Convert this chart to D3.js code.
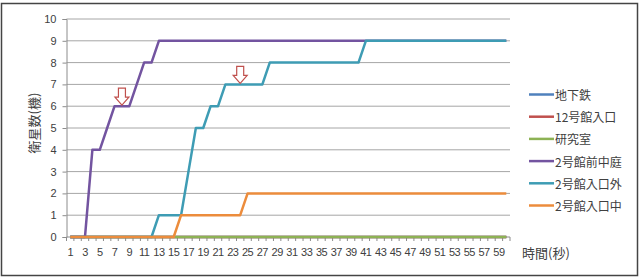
<!DOCTYPE html>
<html>
<head>
<meta charset="utf-8">
<script src="https://cdn.jsdelivr.net/npm/d3@7"></script>
<style>
  body { margin: 0; background: #fff; }
  svg { display: block; font-family: "Noto Sans CJK JP", "DejaVu Sans", sans-serif; }
</style>
</head>
<body>
<svg class="chart"></svg>
<script>
// seconds 1..60
const seconds = d3.range(1, 61);

const seriesNames = ["地下鉄", "12号館入口", "研究室", "2号館前中庭", "2号館入口外", "2号館入口中"];
const seriesColors = ["#4F81BD", "#C0504D", "#8DB254", "#7354A0", "#3E9CB4", "#EC8C3C"];

const chikatetsu = Array(60).fill(0);
const gou12 = Array(60).fill(0);
const kenkyushitsu = Array(60).fill(0);
const nakaniwa = [0, 0, 0, 4, 4, 5, 6, 6, 6, 7, 8, 8,
  9, 9, 9, 9, 9, 9, 9, 9, 9, 9, 9, 9, 9, 9, 9, 9, 9, 9,
  9, 9, 9, 9, 9, 9, 9, 9, 9, 9, 9, 9, 9, 9, 9, 9, 9, 9,
  9, 9, 9, 9, 9, 9, 9, 9, 9, 9, 9, 9];
const iriguchiSoto = [0, 0, 0, 0, 0, 0, 0, 0, 0, 0, 0, 0,
  1, 1, 1, 1, 3, 5, 5, 6, 6, 7, 7, 7, 7, 7, 7,
  8, 8, 8, 8, 8, 8, 8, 8, 8, 8, 8, 8, 8,
  9, 9, 9, 9, 9, 9, 9, 9, 9, 9, 9, 9, 9, 9, 9, 9, 9, 9, 9, 9];
const iriguchiNaka = [0, 0, 0, 0, 0, 0, 0, 0, 0, 0, 0, 0, 0, 0, 0,
  1, 1, 1, 1, 1, 1, 1, 1, 1,
  2, 2, 2, 2, 2, 2, 2, 2, 2, 2, 2, 2, 2, 2, 2, 2, 2, 2, 2, 2, 2, 2, 2, 2, 2, 2, 2, 2, 2, 2, 2, 2, 2, 2, 2, 2];

const seriesValues = [chikatetsu, gou12, kenkyushitsu, nakaniwa, iriguchiSoto, iriguchiNaka];

const yTicks = d3.range(0, 11);
const xLabels = seconds.filter((d) => d % 2 === 1);

// arrows: [second, value the arrow points at]
const arrows = [[8, 6], [24, 7]];

const width = 644;
const height = 280;
const margin = { top: 19, right: 134, bottom: 43, left: 66.5 };

const svg = d3.select(".chart").attr("width", width).attr("height", height);

svg.append("rect")
  .attr("x", 1.5).attr("y", 3.5)
  .attr("width", 636).attr("height", 272)
  .attr("fill", "#fff")
  .attr("stroke", "#444")
  .attr("stroke-width", 1.5);

const x = d3.scaleBand()
  .domain(seconds)
  .range([margin.left, width - margin.right]);

const y = d3.scaleLinear()
  .domain([0, 10])
  .range([height - margin.bottom, margin.top]);

const cx = (d) => x(d) + x.bandwidth() / 2;

// gridlines
svg.append("g")
  .selectAll("line")
  .data(yTicks.filter((d) => d > 0))
  .join("line")
  .attr("x1", margin.left)
  .attr("x2", width - margin.right)
  .attr("y1", (d) => y(d))
  .attr("y2", (d) => y(d))
  .attr("stroke", "#a6a6a6")
  .attr("stroke-width", 1);

// y axis
const yAxis = svg.append("g")
  .attr("transform", `translate(${margin.left},0)`)
  .call(d3.axisLeft(y).tickValues(yTicks).tickSize(4).tickPadding(6));
yAxis.select(".domain").attr("stroke", "#8c8c8c");
yAxis.selectAll(".tick line").attr("stroke", "#8c8c8c");
yAxis.selectAll("text").attr("font-size", 11).attr("fill", "#404040")
  .attr("font-family", "Liberation Sans, Arial, sans-serif");

// x axis
const xAxis = svg.append("g")
  .attr("transform", `translate(0,${y(0)})`)
  .call(d3.axisBottom(x).tickValues(xLabels).tickSize(0).tickPadding(11));
xAxis.select(".domain").remove();
xAxis.selectAll("text").attr("font-size", 11).attr("fill", "#404040")
  .attr("letter-spacing", "-0.5px")
  .attr("font-family", "Liberation Sans, Arial, sans-serif");

const xTickPos = seconds.map((d) => x(d)).concat([width - margin.right]);
svg.append("g")
  .selectAll("line")
  .data(xTickPos)
  .join("line")
  .attr("x1", (d) => d).attr("x2", (d) => d)
  .attr("y1", y(0)).attr("y2", y(0) + 4)
  .attr("stroke", "#8c8c8c");

svg.append("line")
  .attr("x1", margin.left).attr("x2", width - margin.right)
  .attr("y1", y(0)).attr("y2", y(0))
  .attr("stroke", "#8c8c8c");

// series lines
const line = d3.line()
  .x((d, i) => cx(seconds[i]))
  .y((d) => y(d));

svg.append("g")
  .selectAll("path")
  .data(seriesValues)
  .join("path")
  .attr("d", (d) => line(d))
  .attr("fill", "none")
  .attr("stroke", (d, i) => seriesColors[i])
  .attr("stroke-width", 2.5)
  .attr("stroke-linejoin", "round");

// hollow down arrows
svg.append("g")
  .selectAll("path")
  .data(arrows)
  .join("path")
  .attr("transform", (d) => `translate(${cx(d[0])},${y(d[1])})`)
  .attr("d", "M0,-1 L-7,-9 L-3.5,-9 L-3.5,-18 L3.5,-18 L3.5,-9 L7,-9 Z")
  .attr("fill", "#fff")
  .attr("stroke", "#c0504d")
  .attr("stroke-width", 1.2);

// axis titles
svg.append("text")
  .attr("transform", `translate(33,123) rotate(-90)`)
  .attr("text-anchor", "middle")
  .attr("dominant-baseline", "central")
  .attr("font-size", 13)
  .attr("fill", "#404040")
  .text("衛星数(機)");

svg.append("text")
  .attr("x", 522)
  .attr("y", 252)
  .attr("dominant-baseline", "central")
  .attr("font-size", 13)
  .attr("fill", "#404040")
  .text("時間(秒)");

// legend
const legend = svg.append("g");
legend.selectAll("g")
  .data(seriesNames)
  .join("g")
  .attr("transform", (d, i) => `translate(529,${94.5 + i * 22.2})`)
  .each(function (d, i) {
    d3.select(this).append("line")
      .attr("x1", 0).attr("x2", 25)
      .attr("stroke", seriesColors[i])
      .attr("stroke-width", 2.5);
    d3.select(this).append("text")
      .attr("x", 26)
      .attr("dominant-baseline", "central")
      .attr("font-size", 12)
      .attr("fill", "#404040")
      .text(d);
  });
</script>
</body>
</html>
